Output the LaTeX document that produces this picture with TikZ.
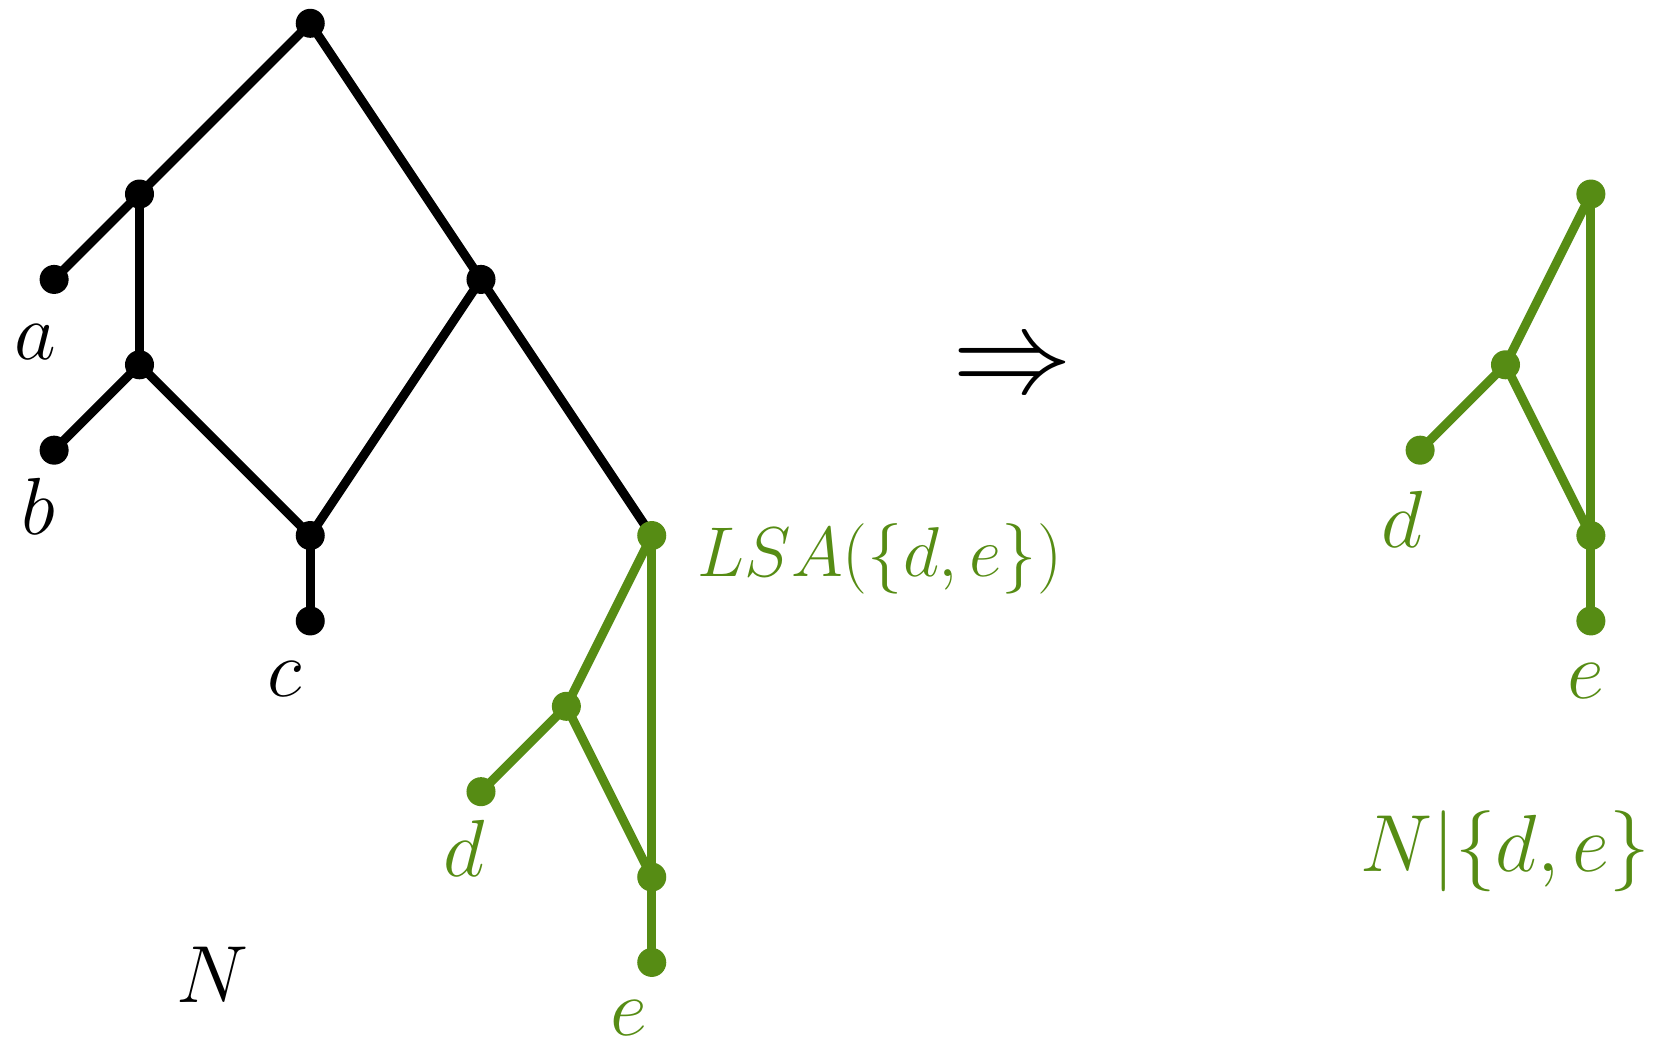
\RequirePackage{fix-cm}
\documentclass[tikz,border=0pt]{standalone}
\usepackage{amsmath}
\usepackage{amssymb}
\usepackage{xcolor}
\usepackage{tikz}
\usetikzlibrary{arrows.meta,positioning,backgrounds}

\definecolor{lsagreen}{RGB}{86,140,20}

\begin{document}
\begin{tikzpicture}[
        vtx/.style={draw=none, fill, circle, inner sep=0pt, minimum size=3.4mm},
        link/.style={line width=1.05mm},
        lab/.style={font=\fontsize{27}{32}\selectfont},
        gr/.style={lsagreen, text=lsagreen},
        >=Latex
    ]
        \useasboundingbox (-0.634,0.273) rectangle (18.845,-11.99);
        % the network N
        \node[vtx] (root) at (3,0) {};
        \node[vtx] (u) at (1,-2) {};
        \node[vtx] (a) at (0,-3) {};
        \node[vtx] (v) at (5,-3) {};
        \node[vtx] (w) at (1,-4) {};
        \node[vtx] (b) at (0,-5) {};
        \node[vtx] (h) at (3,-6) {};
        \node[vtx] (c) at (3,-7) {};
        \node[vtx, gr] (lsa) at (7,-6) {};
        \node[vtx, gr] (x) at (6,-8) {};
        \node[vtx, gr] (d) at (5,-9) {};
        \node[vtx, gr] (y) at (7,-10) {};
        \node[vtx, gr] (e) at (7,-11) {};
        \node[lab] (la) at (-0.22,-3.73) {$a$};
        \node[lab] (lb) at (-0.19,-5.66) {$b$};
        \node[lab] (lc) at (2.7,-7.68) {$c$};
        \node[lab, gr] (ld) at (4.8,-9.66) {$d$};
        \node[lab, gr] (le) at (6.73,-11.65) {$e$};
        \node[lab] (lN) at (1.85,-11.15) {$N$};
        \node[lab, gr, font=\fontsize{23.5}{28}\selectfont, anchor=west, inner sep=0pt] (llsa) at (7.53,-6.27) {$LSA(\{d,e\})$};
        % arrow
        \node[lab, font=\fontsize{40}{44}\selectfont] (impl) at (11.23,-4.07) {$\Rightarrow$};
        % the restriction N|{d,e}
        \node[vtx, gr] (rtop) at (18,-2) {};
        \node[vtx, gr] (rx) at (17,-4) {};
        \node[vtx, gr] (rd) at (16,-5) {};
        \node[vtx, gr] (ry) at (18,-6) {};
        \node[vtx, gr] (re) at (18,-7) {};
        \node[lab, gr] (lrd) at (15.79,-5.81) {$d$};
        \node[lab, gr] (lre) at (17.94,-7.71) {$e$};
        \node[lab, gr] (lres) at (17.0,-9.7) {$N|\{d,e\}$};
        \begin{scope}[on background layer]
        \draw[link] (root.center) -- (u.center);
        \draw[link] (root.center) -- (v.center);
        \draw[link] (u.center) -- (a.center);
        \draw[link] (u.center) -- (w.center);
        \draw[link] (w.center) -- (b.center);
        \draw[link] (w.center) -- (h.center);
        \draw[link] (v.center) -- (h.center);
        \draw[link] (h.center) -- (c.center);
        \draw[link] (v.center) -- (lsa.center);
        \draw[link, gr] (lsa.center) -- (x.center);
        \draw[link, gr] (lsa.center) -- (y.center);
        \draw[link, gr] (x.center) -- (d.center);
        \draw[link, gr] (x.center) -- (y.center);
        \draw[link, gr] (y.center) -- (e.center);
        \draw[link, gr] (rtop.center) -- (rx.center);
        \draw[link, gr] (rtop.center) -- (ry.center);
        \draw[link, gr] (rx.center) -- (rd.center);
        \draw[link, gr] (rx.center) -- (ry.center);
        \draw[link, gr] (ry.center) -- (re.center);
        \end{scope}
    \end{tikzpicture}
\end{document}
